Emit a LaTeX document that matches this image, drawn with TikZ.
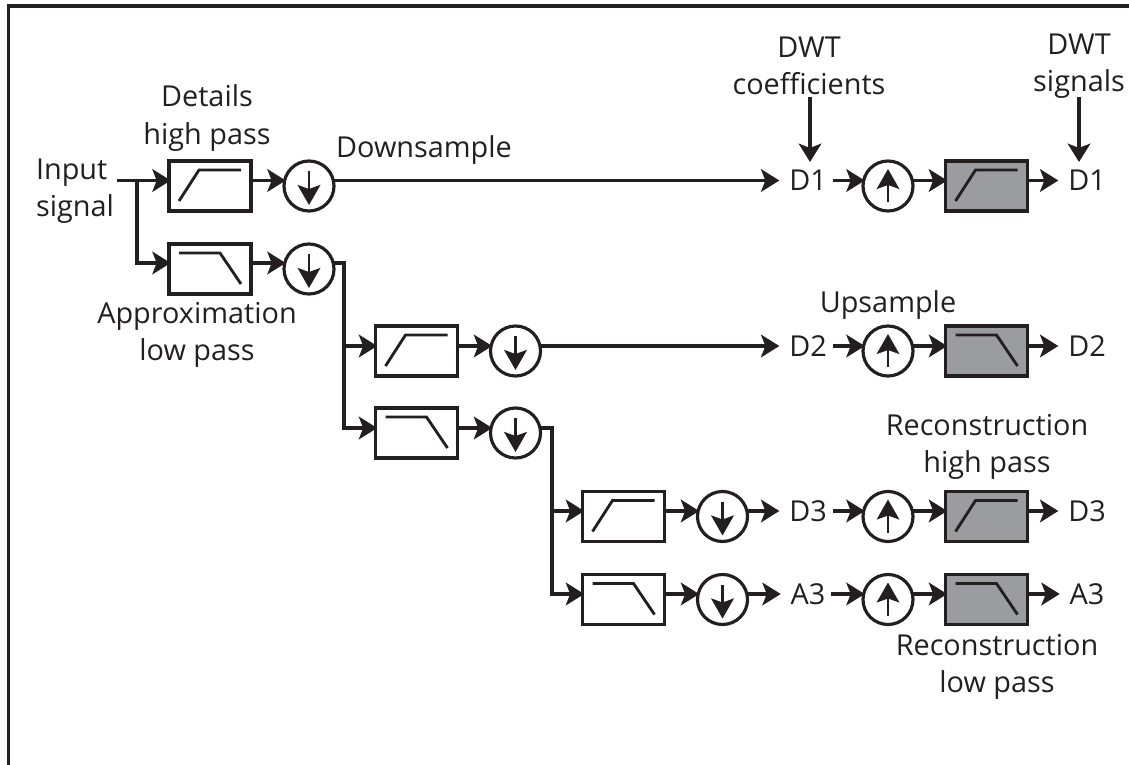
\documentclass[tikz,border=0pt]{standalone}
\usepackage{fontspec}
\usepackage{xcolor}
\usepackage{tikz}
\usetikzlibrary{arrows.meta}
\setmainfont{Open Sans}

\definecolor{inkblack}{HTML}{231F20}
\definecolor{synthgray}{HTML}{9A9C9F}

\tikzset{
    filterbox/.style={draw, inner sep=0pt, outer sep=0pt, minimum width=2.46cm, minimum height=1.5cm},
    hipass/.style={filterbox, path picture={
        \draw[curveline, shift={(path picture bounding box.center)}] (-31,15) -- (-11,-16) -- (31,-16);}},
    lopass/.style={filterbox, path picture={
        \draw[curveline, shift={(path picture bounding box.center)}] (-31,-16) -- (10,-16) -- (31,15);}},
    curveline/.style={line width=0.085cm, line join=miter},
    samplecircle/.style={draw, circle, inner sep=0pt, outer sep=0pt, minimum size=1.5cm},
    down/.style={samplecircle, path picture={
        \draw[samplearrow, line width=0.085cm, shift={(path picture bounding box.center)}] (0,-15) -- (0,19);}},
    up/.style={samplecircle, path picture={
        \draw[samplearrow, line width=0.06cm, shift={(path picture bounding box.center)}] (0,16) -- (0,-17);}},
    samplearrow/.style={-{Stealth[length=0.6cm, width=0.68cm, inset=0.12cm]}},
    label/.style={inner sep=0pt, align=center},
    port/.style={inner xsep=0.25cm, inner ysep=0pt},
    into/.style={->, shorten >=-0.05cm},
    leave/.style={shorten <=-0.12cm}
}

\begin{document}
\begin{tikzpicture}[
    x=0.03cm, y=-0.03cm,
    font=\fontsize{24.6}{32}\selectfont,
    color=inkblack,
    line width=0.095cm,
    >={Stealth[length=0.55cm, width=0.68cm, inset=0.13cm]}
]
\useasboundingbox (0,0) rectangle (1129,765);

% frame runs off the right and bottom
\coordinate (framebl) at (8.3,765);
\coordinate (frametl) at (8.3,6);
\coordinate (frametr) at (1129,6);
\draw (framebl) -- (frametl) -- (frametr);

% signal heights
\coordinate (rowa) at (0,180.5);
\coordinate (rowb) at (0,263);
\coordinate (rowc) at (0,346);
\coordinate (rowd) at (0,428);
\coordinate (rowe) at (0,511);
\coordinate (rowf) at (0,594);

% analysis side
\node[hipass] (hpa) at (210,186) {};
\node[down] (dna) at (309,186) {};
\node[lopass] (lpa) at (210,269) {};
\node[down] (dnb) at (309,269) {};
\node[hipass] (hpc) at (416.5,351) {};
\node[down] (dnc) at (515.5,351) {};
\node[lopass] (lpd) at (416.5,433) {};
\node[down] (dnd) at (515.5,433) {};
\node[hipass] (hpe) at (623.5,516.5) {};
\node[down] (dne) at (722.5,516.5) {};
\node[lopass] (lpf) at (623.5,599.5) {};
\node[down] (dnf) at (722.5,599.5) {};

% coefficients
\node[port] (cfa) at (808,180.5) {D1};
\node[port] (cfc) at (808,346) {D2};
\node[port] (cfe) at (808,511) {D3};
\node[port] (cff) at (808,594) {A3};

% synthesis side
\node[up] (upa) at (888,186) {};
\node[up] (upc) at (888,351) {};
\node[up] (upe) at (888,516.5) {};
\node[up] (upf) at (888,599.5) {};
\node[hipass, fill=synthgray] (rha) at (986.5,186) {};
\node[lopass, fill=synthgray] (rlc) at (986.5,351) {};
\node[hipass, fill=synthgray] (rhe) at (986.5,516.5) {};
\node[lopass, fill=synthgray] (rlf) at (986.5,599.5) {};
\node[port] (outa) at (1087,180.5) {D1};
\node[port] (outc) at (1087,346) {D2};
\node[port] (oute) at (1087,511) {D3};
\node[port] (outf) at (1087,594) {A3};

% labels
\node[label, align=left] (inputlab) at (75,191) {Input\\signal};
\node[label] (detlab) at (207,118) {Details\\high pass};
\node[label] (downlab) at (424,150) {Downsample};
\node[label] (applab) at (197,335) {Approximation\\low pass};
\node[label] (coeflab) at (809,66) {DWT\\coefficients};
\node[label] (siglab) at (1079,66) {DWT\\signals};
\node[label] (uplab) at (888,305) {Upsample};
\node[label] (rechlab) at (987,447) {Reconstruction\\high pass};
\node[label] (recllab) at (997,667) {Reconstruction\\low pass};

\coordinate (inputend) at (117,180.5);
\coordinate (splita) at (137,180.5);
\coordinate (splitb) at (344,263);
\coordinate (splitd) at (552,428);
\coordinate (coefstart) at (810,97);
\coordinate (sigstart) at (1079,97);

\draw[into] (inputend) -- (hpa.west |- rowa);
\draw[into] (splita) |- (lpa.west |- rowb);
\draw[into] (hpa.east |- rowa) -- (dna.west |- rowa);
\draw[into] (lpa.east |- rowb) -- (dnb.west |- rowb);
\draw[->] (dna.east |- rowa) -- (cfa.west);

\draw[into] (dnb.east |- rowb) -- (splitb) |- (hpc.west |- rowc);
\draw[into] (splitb) |- (lpd.west |- rowd);
\draw[into] (hpc.east |- rowc) -- (dnc.west |- rowc);
\draw[into] (lpd.east |- rowd) -- (dnd.west |- rowd);
\draw[->] (dnc.east |- rowc) -- (cfc.west);

\draw[into] (dnd.east |- rowd) -- (splitd) |- (hpe.west |- rowe);
\draw[into] (splitd) |- (lpf.west |- rowf);
\draw[into] (hpe.east |- rowe) -- (dne.west |- rowe);
\draw[into] (lpf.east |- rowf) -- (dnf.west |- rowf);
\draw[->] (dne.east |- rowe) -- (cfe.west);
\draw[->] (dnf.east |- rowf) -- (cff.west);

\draw[into, leave] (cfa.east) -- (upa.west |- rowa);
\draw[into, leave] (cfc.east) -- (upc.west |- rowc);
\draw[into, leave] (cfe.east) -- (upe.west |- rowe);
\draw[into, leave] (cff.east) -- (upf.west |- rowf);
\draw[into] (upa.east |- rowa) -- (rha.west |- rowa);
\draw[into] (upc.east |- rowc) -- (rlc.west |- rowc);
\draw[into] (upe.east |- rowe) -- (rhe.west |- rowe);
\draw[into] (upf.east |- rowf) -- (rlf.west |- rowf);
\draw[->] (rha.east |- rowa) -- (outa.west);
\draw[->] (rlc.east |- rowc) -- (outc.west);
\draw[->] (rhe.east |- rowe) -- (oute.west);
\draw[->] (rlf.east |- rowf) -- (outf.west);

\draw[->, shorten >=0.2cm] (coefstart) -- (coefstart |- cfa.north);
\draw[->, shorten >=0.2cm] (sigstart) -- (sigstart |- outa.north);

\end{tikzpicture}
\end{document}
